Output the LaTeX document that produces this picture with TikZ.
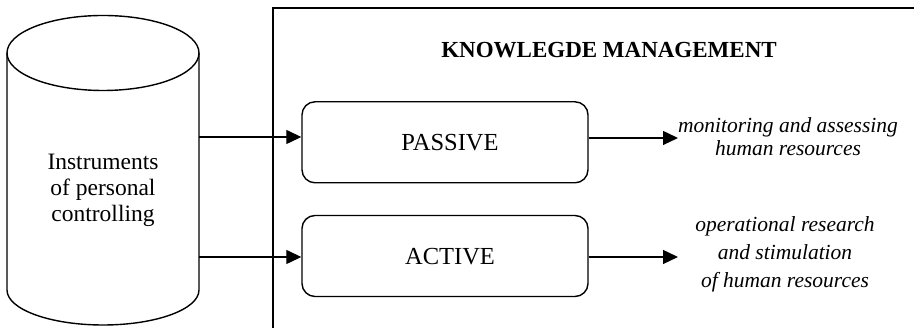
\documentclass[tikz,border=0pt]{standalone}
\usepackage{fontspec}
\setmainfont{Liberation Serif}
\usetikzlibrary{arrows.meta}
\begin{document}
\begin{tikzpicture}[x=1pt,y=1pt,
  line width=1.4pt,
  every node/.style={font=\fontsize{23.5}{26}\selectfont},
  procbox/.style={draw, rounded corners=13pt, minimum width=286pt, minimum height=81pt, inner sep=0pt, text depth=0pt, font=\fontsize{24.5}{26}\selectfont},
  conn/.style={-{Triangle[length=15pt,width=14pt]}, line width=1.3pt},
  outtext/.style={align=center, inner sep=0pt}
]
\useasboundingbox (0,0) rectangle (914,328);
% big frame (extends beyond the picture on the right and bottom)
\draw (273,0) -- (273,320) -- (914,320);
% cylinder
\draw (7,275) -- (7,38) arc[start angle=180,end angle=360,x radius=96,y radius=35] -- (199,275);
\draw (103,275) ellipse [x radius=96, y radius=37.5];
\node[align=center] (cyl) at (103,138) {Instruments\\of personal\\controlling};
\coordinate (cylA) at (199,191);
\coordinate (cylB) at (199,71);
% title
\node[font=\fontsize{23}{26}\selectfont\bfseries] (title) at (609,278) {KNOWLEGDE MANAGEMENT};
% boxes
\node[procbox] (passive) at (445,185.7) {\hspace*{10pt}PASSIVE};
\node[procbox] (active) at (445,72) {\hspace*{10pt}ACTIVE};
% outputs
\node[outtext, font=\fontsize{21.5}{23}\selectfont\itshape] (pout) at (788,191.5) {monitoring and assessing\\human resources};
\node[outtext, font=\fontsize{21.5}{28}\selectfont\itshape] (aout) at (785,74) {operational research\\and stimulation\\of human resources};
\coordinate (pend) at (678,190);
\coordinate (aend) at (678,71);
% connectors
\draw[conn] (cylA) -- (passive.west |- cylA);
\draw[conn] (cylB) -- (active.west |- cylB);
\draw[conn] (passive.east |- pend) -- (pend);
\draw[conn] (active.east |- aend) -- (aend);
\end{tikzpicture}
\end{document}
